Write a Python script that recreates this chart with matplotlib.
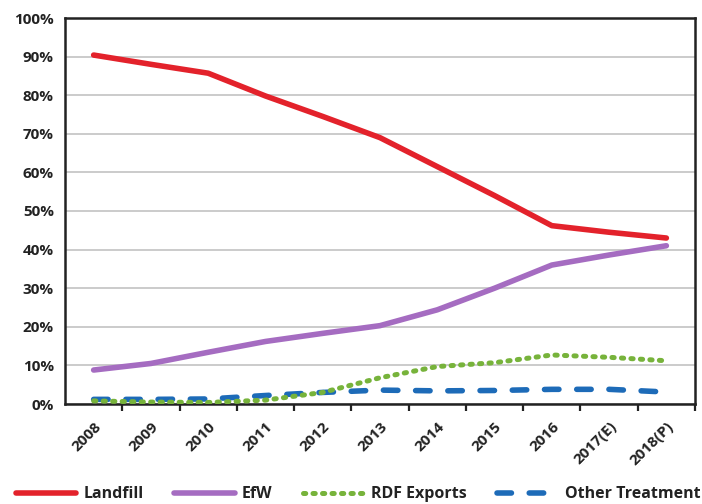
import matplotlib
matplotlib.use("Agg")
import matplotlib.pyplot as plt
from matplotlib.ticker import FuncFormatter

years = ["2008", "2009", "2010", "2011", "2012", "2013", "2014",
         "2015", "2016", "2017(E)", "2018(P)"]
landfill = [90.4, 88.0, 85.7, 79.8, 74.5, 69.0, 61.5, 54.0, 46.2, 44.5, 43.0]
efw = [8.8, 10.5, 13.4, 16.2, 18.3, 20.3, 24.4, 30.0, 36.0, 38.6, 41.0]
rdf_exports = [0.8, 0.5, 0.4, 1.0, 3.0, 6.8, 9.7, 10.7, 12.7, 12.1, 11.2]
other_treatment = [1.2, 1.2, 1.3, 2.2, 3.0, 3.6, 3.4, 3.5, 3.8, 3.8, 3.1]
y_ticks = [0, 10, 20, 30, 40, 50, 60, 70, 80, 90, 100]

plt.rcParams["font.family"] = ["Open Sans", "DejaVu Sans"]
plt.rcParams["font.weight"] = "bold"

fig = plt.figure(figsize=(7.02, 5.04), dpi=100)
ax = fig.add_axes([65 / 702, 100 / 504, 630 / 702, 386 / 504])

x = list(range(len(years)))
ax.plot(x, landfill, color="#E3222B", lw=4.0, solid_capstyle="round",
        solid_joinstyle="round", label="Landfill", zorder=5)
ax.plot(x, efw, color="#A56CC1", lw=4.0, solid_capstyle="round",
        solid_joinstyle="round", label="EfW", zorder=4)
ax.plot(x, rdf_exports, color="#77B33B", lw=3.6, linestyle=(0, (0.45, 1.45)),
        dash_capstyle="round", label="RDF Exports", zorder=3)
ax.plot(x, other_treatment, color="#1D6BB8", lw=4.0, linestyle=(0, (2.6, 3.2)),
        dash_capstyle="round", label="Other Treatment", zorder=2)

ax.set_xlim(-0.5, len(years) - 0.5)
ax.set_ylim(0, 100)
ax.set_yticks(y_ticks)
ax.yaxis.set_major_formatter(FuncFormatter(lambda v, p: f"{v:.0f}%"))
ax.grid(axis="y", color="#BDBDBD", lw=1.1)
ax.set_axisbelow(True)

# category labels sit at band centres, tick marks at band edges
ax.set_xticks(x)
ax.set_xticklabels(years, rotation=45, ha="right", rotation_mode="anchor",
                   fontsize=11, fontweight="bold", color="#222222")
ax.tick_params(axis="x", which="major", length=0, pad=11)
ax.set_xticks([i - 0.5 for i in range(1, len(years) + 1)], minor=True)
ax.tick_params(axis="x", which="minor", length=5, width=1.6, direction="out",
               color="#222222")
ax.tick_params(axis="y", length=0, pad=8, labelsize=11, labelcolor="#222222")
for lab in ax.get_yticklabels():
    lab.set_fontweight("bold")

for side in ["left", "right", "top", "bottom"]:
    ax.spines[side].set_color("#222222")
    ax.spines[side].set_linewidth(1.8)

leg = fig.legend(loc="lower center", bbox_to_anchor=(0.51, -0.025), ncol=4,
                 frameon=False, handlelength=3.8, columnspacing=1.9,
                 handletextpad=0.45,
                 prop={"weight": "bold", "size": 11.5})
for t in leg.get_texts():
    t.set_color("#222222")

fig.savefig("out.png", dpi=100)
